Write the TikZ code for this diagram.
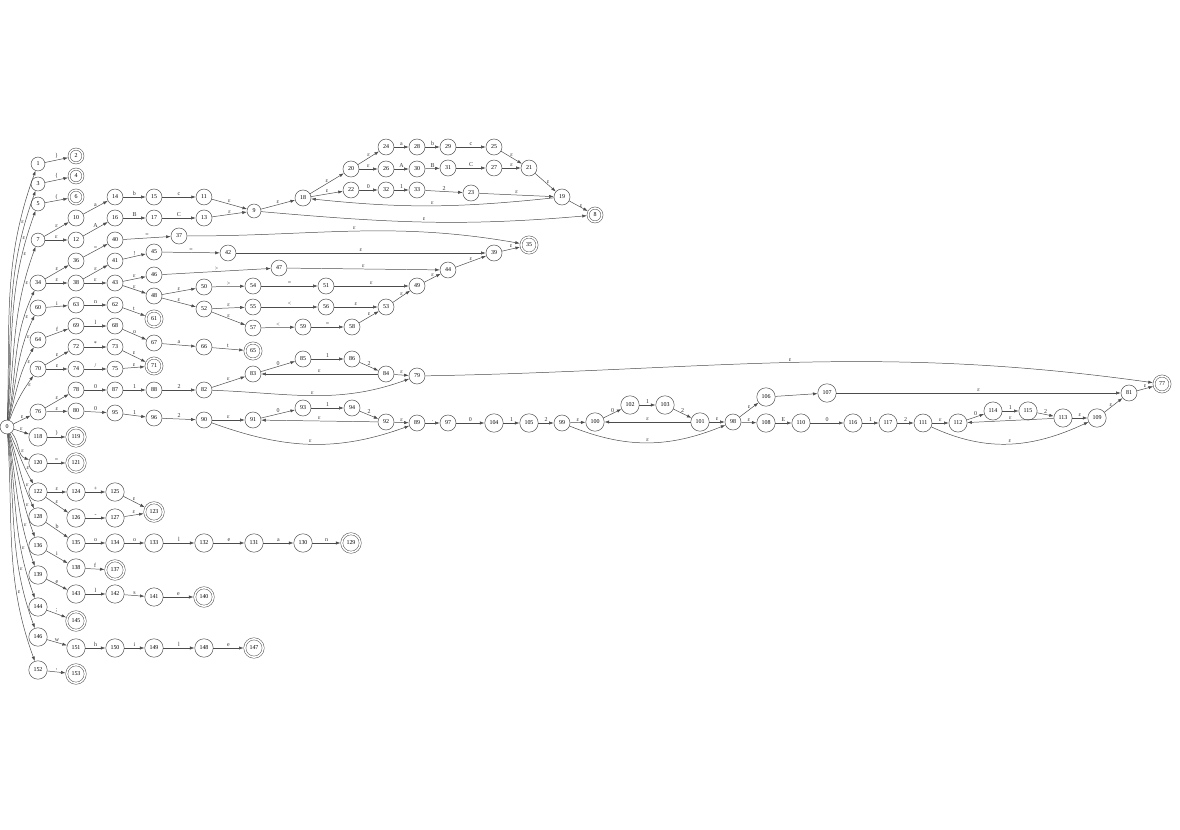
\documentclass[tikz,border=0pt]{standalone}
\usepackage{fontspec}
\setmainfont{Liberation Serif}
\usetikzlibrary{arrows.meta}
\newcommand{\epsl}{ε}
\begin{document}
\begin{tikzpicture}[x=0.02cm,y=-0.02cm,
  state/.style={draw=black!70,circle,line width=0.28pt,inner sep=1.8pt,font=\fontsize{3.4}{4}\selectfont},
  accept/.style={state,double,double distance=0.9pt,outer sep=0.7pt},
  edge/.style={draw=black!70,line width=0.28pt,-{Latex[length=2.6pt,width=1.8pt]}},
  lbl/.style={font=\fontsize{3.4}{4}\selectfont,text=black!80,inner sep=0.6pt,above}]
\useasboundingbox (0,0) rectangle (1180,830);
% states
\node[state] (s0) at (7,427) {0};
\node[state] (s1) at (38,164) {1};
\node[accept] (s2) at (76,156) {2};
\node[state] (s3) at (38,184) {3};
\node[accept] (s4) at (76,176) {4};
\node[state] (s5) at (38,204) {5};
\node[accept] (s6) at (76,197) {6};
\node[state] (s7) at (38,240) {7};
\node[state] (s10) at (76,218) {10};
\node[state] (s12) at (76,240) {12};
\node[state] (s14) at (115,197) {14};
\node[state] (s16) at (115,218) {16};
\node[state] (s15) at (154,197) {15};
\node[state] (s17) at (154,218) {17};
\node[state] (s11) at (204,197) {11};
\node[state] (s13) at (204,218) {13};
\node[state] (s9) at (254,211) {9};
\node[state] (s18) at (303,198) {18};
\node[state] (s20) at (351,169) {20};
\node[state] (s22) at (351,190) {22};
\node[state] (s24) at (386,147) {24};
\node[state] (s26) at (386,169) {26};
\node[state] (s32) at (386,190) {32};
\node[state] (s28) at (417,147) {28};
\node[state] (s30) at (417,169) {30};
\node[state] (s33) at (417,190) {33};
\node[state] (s29) at (448,147) {29};
\node[state] (s31) at (448,168) {31};
\node[state] (s23) at (471,193) {23};
\node[state] (s25) at (494,147) {25};
\node[state] (s27) at (494,168) {27};
\node[state] (s21) at (529,168) {21};
\node[state] (s19) at (562,197) {19};
\node[accept] (s8) at (595,215) {8};
\node[state] (s34) at (38,283) {34};
\node[state] (s36) at (76,261) {36};
\node[state] (s38) at (76,283) {38};
\node[state] (s40) at (115,240) {40};
\node[state] (s41) at (115,261) {41};
\node[state] (s43) at (115,283) {43};
\node[state] (s37) at (179,236) {37};
\node[state] (s45) at (154,252) {45};
\node[state] (s46) at (154,275) {46};
\node[state] (s48) at (154,296) {48};
\node[state] (s42) at (228,253) {42};
\node[state] (s47) at (279,268) {47};
\node[state] (s50) at (204,287) {50};
\node[state] (s54) at (253,286) {54};
\node[state] (s51) at (326,286) {51};
\node[state] (s49) at (417,286) {49};
\node[state] (s52) at (204,309) {52};
\node[state] (s55) at (253,307) {55};
\node[state] (s56) at (326,307) {56};
\node[state] (s53) at (386,307) {53};
\node[state] (s57) at (253,328) {57};
\node[state] (s59) at (303,327) {59};
\node[state] (s58) at (352,327) {58};
\node[state] (s44) at (448,270) {44};
\node[state] (s39) at (494,253) {39};
\node[accept] (s35) at (529,245) {35};
\node[state] (s60) at (38,308) {60};
\node[state] (s63) at (76,305) {63};
\node[state] (s62) at (115,305) {62};
\node[accept] (s61) at (154,319) {61};
\node[state] (s64) at (38,340) {64};
\node[state] (s69) at (76,326) {69};
\node[state] (s68) at (115,326) {68};
\node[state] (s67) at (154,343) {67};
\node[state] (s66) at (204,347) {66};
\node[accept] (s65) at (253,351) {65};
\node[state] (s70) at (38,369) {70};
\node[state] (s72) at (76,347) {72};
\node[state] (s73) at (115,347) {73};
\node[state] (s74) at (76,369) {74};
\node[state] (s75) at (115,369) {75};
\node[accept] (s71) at (154,366) {71};
\node[state] (s76) at (38,412) {76};
\node[state] (s78) at (76,390) {78};
\node[state] (s87) at (115,390) {87};
\node[state] (s88) at (154,390) {88};
\node[state] (s82) at (204,390) {82};
\node[state] (s83) at (253,374) {83};
\node[state] (s85) at (303,359) {85};
\node[state] (s86) at (352,359) {86};
\node[state] (s84) at (386,374) {84};
\node[state] (s79) at (417,376) {79};
\node[state] (s80) at (76,411) {80};
\node[state] (s95) at (115,413) {95};
\node[state] (s96) at (154,418) {96};
\node[state] (s90) at (204,420) {90};
\node[state] (s91) at (253,420) {91};
\node[state] (s93) at (303,408) {93};
\node[state] (s94) at (352,408) {94};
\node[state] (s92) at (386,422) {92};
\node[state] (s89) at (417,423) {89};
\node[state] (s97) at (448,423) {97};
\node[state] (s104) at (494,423) {104};
\node[state] (s105) at (529,423) {105};
\node[state] (s99) at (562,423) {99};
\node[state] (s100) at (595,422) {100};
\node[state] (s102) at (630,405) {102};
\node[state] (s103) at (665,405) {103};
\node[state] (s101) at (700,422) {101};
\node[state] (s98) at (733,422) {98};
\node[state] (s106) at (766,397) {106};
\node[state] (s107) at (827,393) {107};
\node[state] (s108) at (766,423) {108};
\node[state] (s110) at (801,423) {110};
\node[state] (s116) at (853,423) {116};
\node[state] (s117) at (888,423) {117};
\node[state] (s111) at (923,423) {111};
\node[state] (s112) at (958,423) {112};
\node[state] (s114) at (993,411) {114};
\node[state] (s115) at (1028,411) {115};
\node[state] (s113) at (1063,418) {113};
\node[state] (s109) at (1097,418) {109};
\node[state] (s81) at (1129,393) {81};
\node[accept] (s77) at (1162,384) {77};
\node[state] (s118) at (38,437) {118};
\node[accept] (s119) at (76,437) {119};
\node[state] (s120) at (38,463) {120};
\node[accept] (s121) at (76,463) {121};
\node[state] (s122) at (38,492) {122};
\node[state] (s124) at (76,492) {124};
\node[state] (s125) at (115,492) {125};
\node[state] (s126) at (76,518) {126};
\node[state] (s127) at (115,518) {127};
\node[accept] (s123) at (154,512) {123};
\node[state] (s128) at (38,517) {128};
\node[state] (s135) at (76,543) {135};
\node[state] (s134) at (115,543) {134};
\node[state] (s133) at (154,543) {133};
\node[state] (s132) at (204,543) {132};
\node[state] (s131) at (254,543) {131};
\node[state] (s130) at (303,543) {130};
\node[accept] (s129) at (351,543) {129};
\node[state] (s136) at (38,546) {136};
\node[state] (s138) at (76,568) {138};
\node[accept] (s137) at (115,570) {137};
\node[state] (s139) at (38,575) {139};
\node[state] (s143) at (76,594) {143};
\node[state] (s142) at (115,594) {142};
\node[state] (s141) at (154,597) {141};
\node[accept] (s140) at (204,597) {140};
\node[state] (s144) at (38,607) {144};
\node[accept] (s145) at (76,621) {145};
\node[state] (s146) at (38,637) {146};
\node[state] (s151) at (76,648) {151};
\node[state] (s150) at (115,648) {150};
\node[state] (s149) at (154,648) {149};
\node[state] (s148) at (204,648) {148};
\node[accept] (s147) at (254,648) {147};
\node[state] (s152) at (38,670) {152};
\node[accept] (s153) at (76,674) {153};
% edges out of the start state
\draw[edge] (s0) to[out=88,in=250] node[lbl,pos=0.8,right] {\epsl} (s1);
\draw[edge] (s0) to[out=87,in=250] node[lbl,pos=0.8,right] {\epsl} (s3);
\draw[edge] (s0) to[out=86,in=250] node[lbl,pos=0.8,right] {\epsl} (s5);
\draw[edge] (s0) to[out=84,in=250] node[lbl,pos=0.8,right] {\epsl} (s7);
\draw[edge] (s0) to[out=80,in=245] node[lbl,pos=0.8,right] {\epsl} (s34);
\draw[edge] (s0) to[out=78,in=245] node[lbl,pos=0.8,right] {\epsl} (s60);
\draw[edge] (s0) to[out=75,in=240] node[lbl,pos=0.8,right] {\epsl} (s64);
\draw[edge] (s0) to[out=70,in=235] node[lbl,pos=0.8,right] {\epsl} (s70);
\draw[edge] (s0) -- node[lbl] {\epsl} (s76);
\draw[edge] (s0) -- node[lbl] {\epsl} (s118);
\draw[edge] (s0) to[out=-50,in=160] node[lbl,pos=0.6,right] {\epsl} (s120);
\draw[edge] (s0) to[out=-65,in=120] node[lbl,pos=0.7,right] {\epsl} (s122);
\draw[edge] (s0) to[out=-72,in=115] node[lbl,pos=0.7,right] {\epsl} (s128);
\draw[edge] (s0) to[out=-76,in=110] node[lbl,pos=0.7,right] {\epsl} (s136);
\draw[edge] (s0) to[out=-80,in=110] node[lbl,pos=0.7,right] {\epsl} (s139);
\draw[edge] (s0) to[out=-82,in=110] node[lbl,pos=0.7,right] {\epsl} (s144);
\draw[edge] (s0) to[out=-84,in=110] node[lbl,pos=0.7,right] {\epsl} (s146);
\draw[edge] (s0) to[out=-86,in=110] node[lbl,pos=0.7,right] {\epsl} (s152);
% brackets
\draw[edge] (s1) -- node[lbl] {\}} (s2);
\draw[edge] (s3) -- node[lbl] {\{} (s4);
\draw[edge] (s5) -- node[lbl] {(} (s6);
% identifiers
\draw[edge] (s7) -- node[lbl] {\epsl} (s10);
\draw[edge] (s7) -- node[lbl] {\epsl} (s12);
\draw[edge] (s10) -- node[lbl] {a} (s14);
\draw[edge] (s14) -- node[lbl] {b} (s15);
\draw[edge] (s15) -- node[lbl] {c} (s11);
\draw[edge] (s12) -- node[lbl] {A} (s16);
\draw[edge] (s16) -- node[lbl] {B} (s17);
\draw[edge] (s17) -- node[lbl] {C} (s13);
\draw[edge] (s11) -- node[lbl] {\epsl} (s9);
\draw[edge] (s13) -- node[lbl] {\epsl} (s9);
\draw[edge] (s9) -- node[lbl] {\epsl} (s18);
\draw[edge] (s18) -- node[lbl] {\epsl} (s20);
\draw[edge] (s18) -- node[lbl] {\epsl} (s22);
\draw[edge] (s20) -- node[lbl] {\epsl} (s24);
\draw[edge] (s20) -- node[lbl] {\epsl} (s26);
\draw[edge] (s24) -- node[lbl] {a} (s28);
\draw[edge] (s28) -- node[lbl] {b} (s29);
\draw[edge] (s29) -- node[lbl] {c} (s25);
\draw[edge] (s26) -- node[lbl] {A} (s30);
\draw[edge] (s30) -- node[lbl] {B} (s31);
\draw[edge] (s31) -- node[lbl] {C} (s27);
\draw[edge] (s25) -- node[lbl] {\epsl} (s21);
\draw[edge] (s27) -- node[lbl] {\epsl} (s21);
\draw[edge] (s22) -- node[lbl] {0} (s32);
\draw[edge] (s32) -- node[lbl] {1} (s33);
\draw[edge] (s33) -- node[lbl] {2} (s23);
\draw[edge] (s21) -- node[lbl,right] {\epsl} (s19);
\draw[edge] (s23) -- node[lbl] {\epsl} (s19);
\draw[edge] (s19) to[out=186,in=-6] node[lbl] {\epsl} (s18);
\draw[edge] (s19) -- node[lbl,right] {\epsl} (s8);
\draw[edge] (s9) to[out=-5,in=185] node[lbl] {\epsl} (s8);
% relational operators
\draw[edge] (s34) -- node[lbl] {\epsl} (s36);
\draw[edge] (s34) -- node[lbl] {\epsl} (s38);
\draw[edge] (s36) -- node[lbl] {=} (s40);
\draw[edge] (s40) -- node[lbl] {=} (s37);
\draw[edge] (s37) to[out=0,in=170] node[lbl] {\epsl} (s35);
\draw[edge] (s38) -- node[lbl] {\epsl} (s41);
\draw[edge] (s38) -- node[lbl] {\epsl} (s43);
\draw[edge] (s41) -- node[lbl] {!} (s45);
\draw[edge] (s45) -- node[lbl] {=} (s42);
\draw[edge] (s42) -- node[lbl] {\epsl} (s39);
\draw[edge] (s39) -- node[lbl] {\epsl} (s35);
\draw[edge] (s43) -- node[lbl] {\epsl} (s46);
\draw[edge] (s43) -- node[lbl] {\epsl} (s48);
\draw[edge] (s46) -- node[lbl] {>} (s47);
\draw[edge] (s47) -- node[lbl] {\epsl} (s44);
\draw[edge] (s44) -- node[lbl] {\epsl} (s39);
\draw[edge] (s48) -- node[lbl] {\epsl} (s50);
\draw[edge] (s48) -- node[lbl] {\epsl} (s52);
\draw[edge] (s50) -- node[lbl] {>} (s54);
\draw[edge] (s54) -- node[lbl] {=} (s51);
\draw[edge] (s51) -- node[lbl] {\epsl} (s49);
\draw[edge] (s49) -- node[lbl] {\epsl} (s44);
\draw[edge] (s52) -- node[lbl] {\epsl} (s55);
\draw[edge] (s52) -- node[lbl] {\epsl} (s57);
\draw[edge] (s55) -- node[lbl] {<} (s56);
\draw[edge] (s56) -- node[lbl] {\epsl} (s53);
\draw[edge] (s57) -- node[lbl] {<} (s59);
\draw[edge] (s59) -- node[lbl] {=} (s58);
\draw[edge] (s58) -- node[lbl] {\epsl} (s53);
\draw[edge] (s53) -- node[lbl] {\epsl} (s49);
% int, float
\draw[edge] (s60) -- node[lbl] {i} (s63);
\draw[edge] (s63) -- node[lbl] {n} (s62);
\draw[edge] (s62) -- node[lbl] {t} (s61);
\draw[edge] (s64) -- node[lbl] {f} (s69);
\draw[edge] (s69) -- node[lbl] {l} (s68);
\draw[edge] (s68) -- node[lbl] {o} (s67);
\draw[edge] (s67) -- node[lbl] {a} (s66);
\draw[edge] (s66) -- node[lbl] {t} (s65);
% mulop
\draw[edge] (s70) -- node[lbl] {\epsl} (s72);
\draw[edge] (s70) -- node[lbl] {\epsl} (s74);
\draw[edge] (s72) -- node[lbl] {*} (s73);
\draw[edge] (s74) -- node[lbl] {/} (s75);
\draw[edge] (s73) -- node[lbl] {\epsl} (s71);
\draw[edge] (s75) -- node[lbl] {\epsl} (s71);
% numbers
\draw[edge] (s76) -- node[lbl] {\epsl} (s78);
\draw[edge] (s76) -- node[lbl] {\epsl} (s80);
\draw[edge] (s78) -- node[lbl] {0} (s87);
\draw[edge] (s87) -- node[lbl] {1} (s88);
\draw[edge] (s88) -- node[lbl] {2} (s82);
\draw[edge] (s82) -- node[lbl] {\epsl} (s83);
\draw[edge] (s83) -- node[lbl] {0} (s85);
\draw[edge] (s85) -- node[lbl] {1} (s86);
\draw[edge] (s86) -- node[lbl] {2} (s84);
\draw[edge] (s84) -- node[lbl] {\epsl} (s83);
\draw[edge] (s84) -- node[lbl] {\epsl} (s79);
\draw[edge] (s82) to[out=-2,in=200] node[lbl] {\epsl} (s79);
\draw[edge] (s79) to[out=1,in=172] node[lbl] {\epsl} (s77);
\draw[edge] (s80) -- node[lbl] {0} (s95);
\draw[edge] (s95) -- node[lbl] {1} (s96);
\draw[edge] (s96) -- node[lbl] {2} (s90);
\draw[edge] (s90) -- node[lbl] {\epsl} (s91);
\draw[edge] (s91) -- node[lbl] {0} (s93);
\draw[edge] (s93) -- node[lbl] {1} (s94);
\draw[edge] (s94) -- node[lbl] {2} (s92);
\draw[edge] (s92) -- node[lbl] {\epsl} (s91);
\draw[edge] (s92) -- node[lbl] {\epsl} (s89);
\draw[edge] (s90) to[out=-20,in=200] node[lbl] {\epsl} (s89);
\draw[edge] (s89) -- node[lbl] {.} (s97);
\draw[edge] (s97) -- node[lbl] {0} (s104);
\draw[edge] (s104) -- node[lbl] {1} (s105);
\draw[edge] (s105) -- node[lbl] {2} (s99);
\draw[edge] (s99) -- node[lbl] {\epsl} (s100);
\draw[edge] (s100) -- node[lbl] {0} (s102);
\draw[edge] (s102) -- node[lbl] {1} (s103);
\draw[edge] (s103) -- node[lbl] {2} (s101);
\draw[edge] (s101) -- node[lbl] {\epsl} (s100);
\draw[edge] (s101) -- node[lbl] {\epsl} (s98);
\draw[edge] (s99) to[out=-22,in=202] node[lbl] {\epsl} (s98);
\draw[edge] (s98) -- node[lbl] {\epsl} (s106);
\draw[edge] (s98) -- node[lbl] {\epsl} (s108);
\draw[edge] (s106) -- (s107);
\draw[edge] (s107) -- node[lbl] {\epsl} (s81);
\draw[edge] (s108) -- node[lbl] {E} (s110);
\draw[edge] (s110) -- node[lbl] {0} (s116);
\draw[edge] (s116) -- node[lbl] {1} (s117);
\draw[edge] (s117) -- node[lbl] {2} (s111);
\draw[edge] (s111) -- node[lbl] {\epsl} (s112);
\draw[edge] (s112) -- node[lbl] {0} (s114);
\draw[edge] (s114) -- node[lbl] {1} (s115);
\draw[edge] (s115) -- node[lbl] {2} (s113);
\draw[edge] (s113) -- node[lbl] {\epsl} (s112);
\draw[edge] (s113) -- node[lbl] {\epsl} (s109);
\draw[edge] (s111) to[out=-25,in=205] node[lbl] {\epsl} (s109);
\draw[edge] (s109) -- node[lbl,left] {\epsl} (s81);
\draw[edge] (s81) -- node[lbl] {\epsl} (s77);
% single symbols
\draw[edge] (s118) -- node[lbl] {)} (s119);
\draw[edge] (s120) -- node[lbl] {=} (s121);
\draw[edge] (s122) -- node[lbl] {\epsl} (s124);
\draw[edge] (s122) -- node[lbl] {\epsl} (s126);
\draw[edge] (s124) -- node[lbl] {+} (s125);
\draw[edge] (s126) -- node[lbl] {-} (s127);
\draw[edge] (s125) -- node[lbl] {\epsl} (s123);
\draw[edge] (s127) -- node[lbl] {\epsl} (s123);
% keywords
\draw[edge] (s128) -- node[lbl] {b} (s135);
\draw[edge] (s135) -- node[lbl] {o} (s134);
\draw[edge] (s134) -- node[lbl] {o} (s133);
\draw[edge] (s133) -- node[lbl] {l} (s132);
\draw[edge] (s132) -- node[lbl] {e} (s131);
\draw[edge] (s131) -- node[lbl] {a} (s130);
\draw[edge] (s130) -- node[lbl] {n} (s129);
\draw[edge] (s136) -- node[lbl] {i} (s138);
\draw[edge] (s138) -- node[lbl] {f} (s137);
\draw[edge] (s139) -- node[lbl] {e} (s143);
\draw[edge] (s143) -- node[lbl] {l} (s142);
\draw[edge] (s142) -- node[lbl] {s} (s141);
\draw[edge] (s141) -- node[lbl] {e} (s140);
\draw[edge] (s144) -- node[lbl] {;} (s145);
\draw[edge] (s146) -- node[lbl] {w} (s151);
\draw[edge] (s151) -- node[lbl] {h} (s150);
\draw[edge] (s150) -- node[lbl] {i} (s149);
\draw[edge] (s149) -- node[lbl] {l} (s148);
\draw[edge] (s148) -- node[lbl] {e} (s147);
\draw[edge] (s152) -- node[lbl] {,} (s153);
\end{tikzpicture}
\end{document}
